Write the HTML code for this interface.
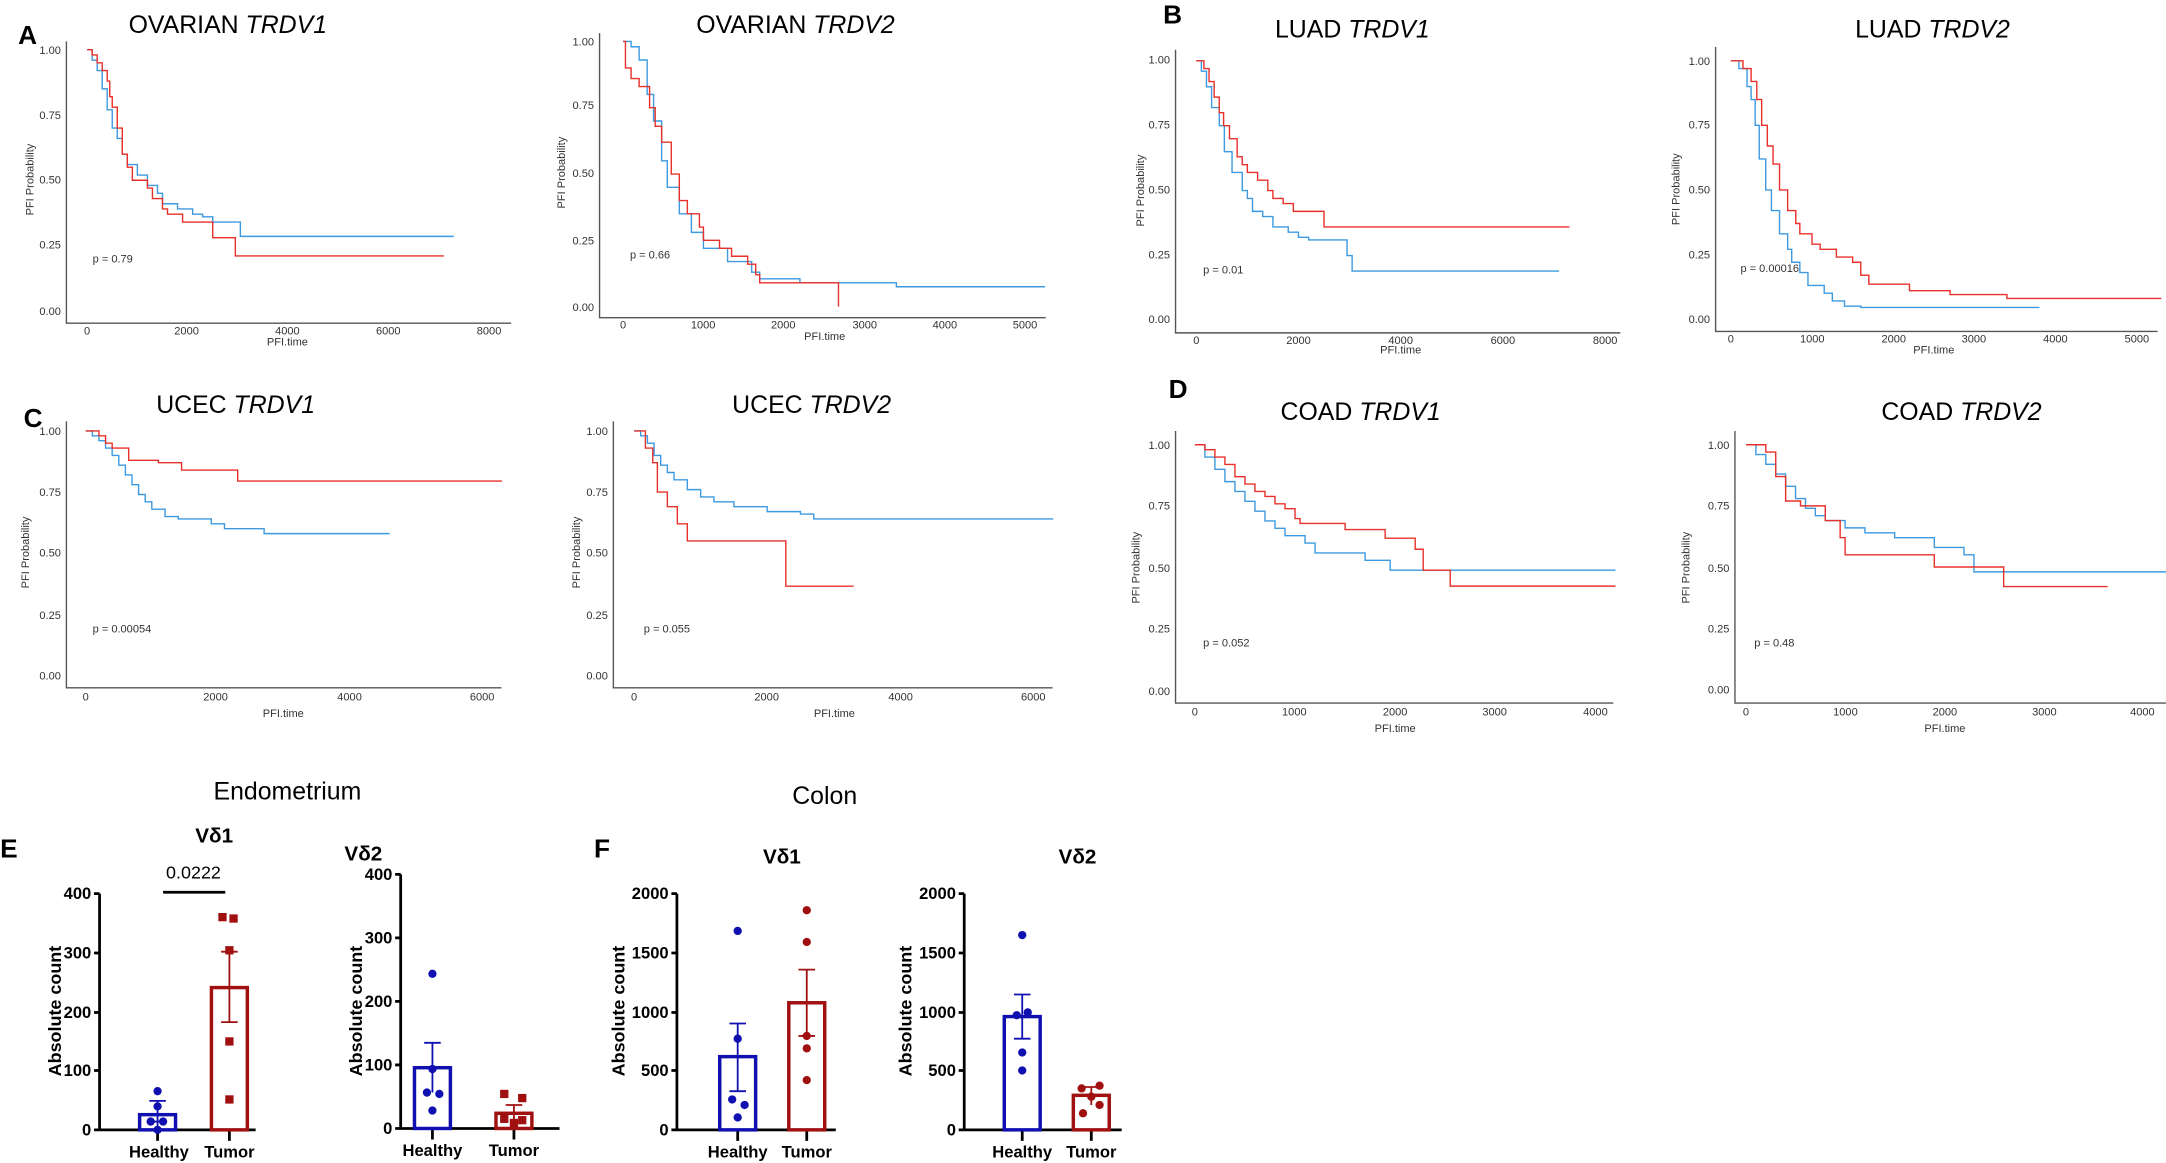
<!DOCTYPE html>
<html><head><meta charset="utf-8">
<style>
html,body{margin:0;padding:0;background:#fff;}
svg{display:block;}
text{font-family:"Liberation Sans",sans-serif;}
.t{font-size:18px;fill:#000;}
.L{font-size:19px;font-weight:bold;fill:#000;}
.tk{font-size:8px;fill:#333;}
.ax{stroke:#555;stroke-width:1;fill:none;}
.r{stroke:#e8302a;stroke-width:1.4;fill:none;vector-effect:non-scaling-stroke;}
.b{stroke:#3d9ae0;stroke-width:1.4;fill:none;vector-effect:non-scaling-stroke;}
.bt{font-size:12px;font-weight:bold;}
.bax{stroke:#000;stroke-width:2;fill:none;}
.yl{font-size:13px;font-weight:bold;}
</style></head><body>
<svg width="2166" height="1163" viewBox="0 0 1568 842" xmlns="http://www.w3.org/2000/svg">
<rect width="1568" height="842" fill="#fff"/>

<!-- ===== A1 ===== -->
<text class="L" x="13" y="32">A</text>
<text class="t" x="93" y="24">OVARIAN <tspan font-style="italic">TRDV1</tspan></text>
<path class="ax" d="M48 30 V234 H370"/>
<g class="tk" text-anchor="end"><text x="44" y="39">1.00</text><text x="44" y="86">0.75</text><text x="44" y="133">0.50</text><text x="44" y="180">0.25</text><text x="44" y="228">0.00</text></g>
<g class="tk" text-anchor="middle"><text x="63" y="242">0</text><text x="135" y="242">2000</text><text x="208" y="242">4000</text><text x="281" y="242">6000</text><text x="354" y="242">8000</text><text x="208" y="250">PFI.time</text></g>
<text class="tk" transform="translate(24,130) rotate(-90)" text-anchor="middle">PFI Probability</text>
<text class="tk" x="67" y="190">p = 0.79</text>
<g transform="translate(63,225) scale(0.036375,-189)">
<path class="b" d="M0 1 H100 V.96 H200 V.92 H300 V.85 H400 V.77 H500 V.7 H600 V.66 H700 V.6 H800 V.56 H1000 V.52 H1200 V.48 H1400 V.45 H1500 V.41 H1800 V.39 H2100 V.37 H2300 V.36 H2500 V.34 H3050 V.285 H7300"/>
<path class="r" d="M0 1 H100 V.98 H200 V.95 H300 V.92 H400 V.88 H450 V.82 H500 V.78 H600 V.7 H700 V.6 H800 V.55 H900 V.5 H1200 V.47 H1300 V.43 H1500 V.39 H1600 V.37 H1900 V.34 H2500 V.28 H2950 V.21 H7100"/>
</g>

<!-- ===== A2 ===== -->
<text class="t" x="504" y="24">OVARIAN <tspan font-style="italic">TRDV2</tspan></text>
<path class="ax" d="M434 24 V230 H757"/>
<g class="tk" text-anchor="end"><text x="430" y="33">1.00</text><text x="430" y="79">0.75</text><text x="430" y="128">0.50</text><text x="430" y="177">0.25</text><text x="430" y="225">0.00</text></g>
<g class="tk" text-anchor="middle"><text x="451" y="238">0</text><text x="509" y="238">1000</text><text x="567" y="238">2000</text><text x="626" y="238">3000</text><text x="684" y="238">4000</text><text x="742" y="238">5000</text><text x="597" y="246">PFI.time</text></g>
<text class="tk" transform="translate(409,125) rotate(-90)" text-anchor="middle">PFI Probability</text>
<text class="tk" x="456" y="187">p = 0.66</text>
<g transform="translate(451,222) scale(0.0582,-192)">
<path class="b" d="M0 1 H100 V.98 H200 V.93 H300 V.8 H380 V.7 H480 V.55 H550 V.45 H700 V.35 H850 V.28 H1000 V.22 H1300 V.17 H1600 V.13 H1700 V.105 H2200 V.09 H3400 V.075 H5250"/>
<path class="r" d="M0 1 H30 V.9 H100 V.86 H200 V.83 H330 V.75 H400 V.68 H480 V.62 H600 V.5 H700 V.4 H800 V.35 H950 V.3 H1000 V.25 H1200 V.22 H1350 V.19 H1550 V.16 H1650 V.12 H1700 V.09 H2680 V0"/>
</g>

<!-- ===== B1 ===== -->
<text class="L" x="842" y="17">B</text>
<text class="t" x="923" y="27">LUAD <tspan font-style="italic">TRDV1</tspan></text>
<path class="ax" d="M851 36 V241 H1173"/>
<g class="tk" text-anchor="end"><text x="847" y="46">1.00</text><text x="847" y="93">0.75</text><text x="847" y="140">0.50</text><text x="847" y="187">0.25</text><text x="847" y="234">0.00</text></g>
<g class="tk" text-anchor="middle"><text x="866" y="249">0</text><text x="940" y="249">2000</text><text x="1014" y="249">4000</text><text x="1088" y="249">6000</text><text x="1162" y="249">8000</text><text x="1014" y="256">PFI.time</text></g>
<text class="tk" transform="translate(828,138) rotate(-90)" text-anchor="middle">PFI Probability</text>
<text class="tk" x="871" y="198">p = 0.01</text>
<g transform="translate(866,232) scale(0.037,-188)">
<path class="b" d="M0 1 H100 V.96 H200 V.9 H300 V.82 H450 V.75 H550 V.65 H700 V.57 H900 V.5 H1000 V.47 H1100 V.42 H1300 V.4 H1500 V.36 H1800 V.34 H2000 V.32 H2200 V.31 H2950 V.25 H3050 V.19 H7100"/>
<path class="r" d="M0 1 H150 V.97 H250 V.92 H350 V.86 H450 V.8 H535 V.75 H650 V.7 H800 V.63 H900 V.6 H1000 V.57 H1200 V.54 H1400 V.5 H1500 V.47 H1700 V.45 H1900 V.42 H2500 V.36 H7300"/>
</g>

<!-- ===== B2 ===== -->
<text class="t" x="1343" y="27">LUAD <tspan font-style="italic">TRDV2</tspan></text>
<path class="ax" d="M1242 34 V240 H1562"/>
<g class="tk" text-anchor="end"><text x="1238" y="47">1.00</text><text x="1238" y="93">0.75</text><text x="1238" y="140">0.50</text><text x="1238" y="187">0.25</text><text x="1238" y="234">0.00</text></g>
<g class="tk" text-anchor="middle"><text x="1253" y="248">0</text><text x="1312" y="248">1000</text><text x="1371" y="248">2000</text><text x="1429" y="248">3000</text><text x="1488" y="248">4000</text><text x="1547" y="248">5000</text><text x="1400" y="256">PFI.time</text></g>
<text class="tk" transform="translate(1216,137) rotate(-90)" text-anchor="middle">PFI Probability</text>
<text class="tk" x="1260" y="197">p = 0.00016</text>
<g transform="translate(1253,231) scale(0.0588,-187)">
<path class="b" d="M0 1 H100 V.97 H200 V.9 H250 V.85 H300 V.75 H350 V.62 H430 V.5 H500 V.42 H600 V.33 H700 V.27 H750 V.22 H850 V.18 H950 V.13 H1150 V.1 H1250 V.07 H1400 V.05 H1600 V.045 H3800"/>
<path class="r" d="M0 1 H150 V.97 H250 V.92 H320 V.85 H380 V.75 H450 V.67 H520 V.6 H600 V.5 H700 V.42 H800 V.37 H850 V.33 H1000 V.29 H1100 V.27 H1300 V.24 H1500 V.22 H1600 V.17 H1700 V.135 H2200 V.11 H2700 V.095 H3400 V.08 H5300"/>
</g>

<!-- ===== C1 ===== -->
<text class="L" x="17" y="309">C</text>
<text class="t" x="113" y="299">UCEC <tspan font-style="italic">TRDV1</tspan></text>
<path class="ax" d="M48 305 V498 H363"/>
<g class="tk" text-anchor="end"><text x="44" y="315">1.00</text><text x="44" y="359">0.75</text><text x="44" y="403">0.50</text><text x="44" y="448">0.25</text><text x="44" y="492">0.00</text></g>
<g class="tk" text-anchor="middle"><text x="62" y="507">0</text><text x="156" y="507">2000</text><text x="253" y="507">4000</text><text x="349" y="507">6000</text><text x="205" y="519">PFI.time</text></g>
<text class="tk" transform="translate(21,400) rotate(-90)" text-anchor="middle">PFI Probability</text>
<text class="tk" x="67" y="458">p = 0.00054</text>
<g transform="translate(62,489) scale(0.04783,-177)">
<path class="b" d="M0 1 H100 V.98 H200 V.96 H300 V.93 H400 V.9 H500 V.86 H600 V.82 H700 V.78 H800 V.74 H900 V.71 H1000 V.68 H1200 V.65 H1400 V.64 H1900 V.62 H2100 V.6 H2700 V.58 H4600"/>
<path class="r" d="M0 1 H200 V.98 H300 V.95 H400 V.93 H650 V.88 H1100 V.87 H1450 V.84 H2300 V.795 H6300"/>
</g>

<!-- ===== C2 ===== -->
<text class="t" x="530" y="299">UCEC <tspan font-style="italic">TRDV2</tspan></text>
<path class="ax" d="M444 305 V498 H762"/>
<g class="tk" text-anchor="end"><text x="440" y="315">1.00</text><text x="440" y="359">0.75</text><text x="440" y="403">0.50</text><text x="440" y="448">0.25</text><text x="440" y="492">0.00</text></g>
<g class="tk" text-anchor="middle"><text x="459" y="507">0</text><text x="555" y="507">2000</text><text x="652" y="507">4000</text><text x="748" y="507">6000</text><text x="604" y="519">PFI.time</text></g>
<text class="tk" transform="translate(420,400) rotate(-90)" text-anchor="middle">PFI Probability</text>
<text class="tk" x="466" y="458">p = 0.055</text>
<g transform="translate(459,489) scale(0.04817,-177)">
<path class="b" d="M0 1 H100 V.98 H200 V.95 H300 V.9 H400 V.86 H500 V.83 H600 V.8 H800 V.76 H1000 V.73 H1200 V.71 H1500 V.69 H2000 V.67 H2500 V.66 H2700 V.64 H6300"/>
<path class="r" d="M0 1 H170 V.93 H280 V.87 H350 V.75 H500 V.69 H650 V.62 H800 V.55 H2280 V.365 H3300"/>
</g>

<!-- ===== D1 ===== -->
<text class="L" x="846" y="288">D</text>
<text class="t" x="927" y="304">COAD <tspan font-style="italic">TRDV1</tspan></text>
<path class="ax" d="M851 312 V509 H1168"/>
<g class="tk" text-anchor="end"><text x="847" y="325">1.00</text><text x="847" y="369">0.75</text><text x="847" y="414">0.50</text><text x="847" y="458">0.25</text><text x="847" y="503">0.00</text></g>
<g class="tk" text-anchor="middle"><text x="865" y="518">0</text><text x="937" y="518">1000</text><text x="1010" y="518">2000</text><text x="1082" y="518">3000</text><text x="1155" y="518">4000</text><text x="1010" y="530">PFI.time</text></g>
<text class="tk" transform="translate(825,411) rotate(-90)" text-anchor="middle">PFI Probability</text>
<text class="tk" x="871" y="468">p = 0.052</text>
<g transform="translate(865,500) scale(0.0725,-178)">
<path class="b" d="M0 1 H100 V.95 H200 V.9 H300 V.85 H400 V.81 H500 V.77 H600 V.73 H700 V.69 H800 V.66 H900 V.63 H1100 V.6 H1200 V.56 H1700 V.53 H1950 V.49 H4200"/>
<path class="r" d="M0 1 H100 V.98 H200 V.95 H300 V.92 H400 V.87 H500 V.84 H600 V.81 H700 V.79 H800 V.76 H900 V.74 H1000 V.7 H1050 V.68 H1500 V.655 H1900 V.62 H2200 V.575 H2280 V.49 H2550 V.425 H4200"/>
</g>

<!-- ===== D2 ===== -->
<text class="t" x="1362" y="304">COAD <tspan font-style="italic">TRDV2</tspan></text>
<path class="ax" d="M1256 312 V509 H1568"/>
<g class="tk" text-anchor="end"><text x="1252" y="325">1.00</text><text x="1252" y="369">0.75</text><text x="1252" y="414">0.50</text><text x="1252" y="458">0.25</text><text x="1252" y="502">0.00</text></g>
<g class="tk" text-anchor="middle"><text x="1264" y="518">0</text><text x="1336" y="518">1000</text><text x="1408" y="518">2000</text><text x="1480" y="518">3000</text><text x="1551" y="518">4000</text><text x="1408" y="530">PFI.time</text></g>
<text class="tk" transform="translate(1223,411) rotate(-90)" text-anchor="middle">PFI Probability</text>
<text class="tk" x="1270" y="468">p = 0.48</text>
<g transform="translate(1264,499) scale(0.07175,-177)">
<path class="b" d="M0 1 H100 V.96 H200 V.92 H300 V.88 H400 V.83 H500 V.78 H600 V.74 H700 V.71 H800 V.69 H1000 V.66 H1200 V.64 H1500 V.62 H1900 V.58 H2200 V.55 H2300 V.48 H4300"/>
<path class="r" d="M0 1 H200 V.97 H300 V.87 H400 V.77 H550 V.75 H800 V.69 H950 V.62 H1000 V.55 H1900 V.5 H2600 V.42 H3650"/>
</g>

<!-- ===== Bottom bar charts ===== -->
<text x="208" y="579" text-anchor="middle" font-size="18">Endometrium</text>
<text x="597" y="582" text-anchor="middle" font-size="18">Colon</text>
<text class="L" x="0" y="621">E</text>
<text class="L" x="430" y="621">F</text>

<g class="bt">
<!-- E1 -->
<text x="155" y="610" text-anchor="middle" font-size="15">Vδ1</text>
<text x="140" y="636" text-anchor="middle" font-size="13" font-weight="normal">0.0222</text>
<path d="M118 646 H163" stroke="#000" stroke-width="2"/>
<path class="bax" d="M72 647 V818 H185 M68 647 H72 M68 690 H72 M68 733 H72 M68 775 H72 M68 818 H72 M114 818 V826 M166 818 V826"/>
<g text-anchor="end"><text x="66" y="651">400</text><text x="66" y="694">300</text><text x="66" y="737">200</text><text x="66" y="779">100</text><text x="66" y="822">0</text></g>
<text class="yl" transform="translate(44,732) rotate(-90)" text-anchor="middle">Absolute count</text>
<rect x="101" y="807" width="26" height="11" fill="none" stroke="#1010b0" stroke-width="2.5"/>
<path d="M114 797 V816 M108 797 H120 M108 812 H120" stroke="#1010b0" stroke-width="1.3"/>
<g fill="#1010b0"><circle cx="114" cy="790" r="3"/><circle cx="114" cy="801" r="3"/><circle cx="109" cy="812" r="3"/><circle cx="118" cy="812" r="3"/><circle cx="114" cy="818" r="3"/></g>
<rect x="153" y="715" width="26" height="103" fill="none" stroke="#a01010" stroke-width="2.5"/>
<path d="M166 689 V740 M160 689 H172 M160 740 H172" stroke="#a01010" stroke-width="1.3"/>
<g fill="#a01010"><rect x="158" y="661" width="6" height="6"/><rect x="166" y="662" width="6" height="6"/><rect x="163" y="685" width="6" height="6"/><rect x="163" y="751" width="6" height="6"/><rect x="163" y="793" width="6" height="6"/></g>
<text x="115" y="838" text-anchor="middle">Healthy</text><text x="166" y="838" text-anchor="middle">Tumor</text>

<!-- E2 -->
<text x="263" y="623" text-anchor="middle" font-size="15">Vδ2</text>
<path class="bax" d="M290 633 V817 H405 M286 633 H290 M286 679 H290 M286 725 H290 M286 771 H290 M286 817 H290 M313 817 V825 M372 817 V825"/>
<g text-anchor="end"><text x="284" y="637">400</text><text x="284" y="683">300</text><text x="284" y="729">200</text><text x="284" y="775">100</text><text x="284" y="821">0</text></g>
<text class="yl" transform="translate(262,732) rotate(-90)" text-anchor="middle">Absolute count</text>
<rect x="300" y="773" width="26" height="44" fill="none" stroke="#1010b0" stroke-width="2.5"/>
<path d="M313 755 V791 M307 755 H319" stroke="#1010b0" stroke-width="1.3"/>
<g fill="#1010b0"><circle cx="313" cy="705" r="3"/><circle cx="313" cy="774" r="3"/><circle cx="309" cy="791" r="3"/><circle cx="318" cy="792" r="3"/><circle cx="313" cy="804" r="3"/></g>
<rect x="359" y="806" width="26" height="11" fill="none" stroke="#a01010" stroke-width="2.5"/>
<path d="M372 800 V812 M366 800 H378" stroke="#a01010" stroke-width="1.3"/>
<g fill="#a01010"><rect x="362" y="789" width="6" height="6"/><rect x="375" y="792" width="6" height="6"/><rect x="362" y="807" width="6" height="6"/><rect x="375" y="808" width="6" height="6"/><rect x="369" y="810" width="6" height="6"/></g>
<text x="313" y="837" text-anchor="middle">Healthy</text><text x="372" y="837" text-anchor="middle">Tumor</text>

<!-- F1 -->
<text x="566" y="625" text-anchor="middle" font-size="15">Vδ1</text>
<path class="bax" d="M490 647 V818 H605 M486 647 H490 M486 690 H490 M486 733 H490 M486 775 H490 M486 818 H490 M534 818 V826 M584 818 V826"/>
<g text-anchor="end"><text x="484" y="651">2000</text><text x="484" y="694">1500</text><text x="484" y="737">1000</text><text x="484" y="779">500</text><text x="484" y="822">0</text></g>
<text class="yl" transform="translate(452,732) rotate(-90)" text-anchor="middle">Absolute count</text>
<rect x="521" y="765" width="26" height="53" fill="none" stroke="#1010b0" stroke-width="2.5"/>
<path d="M534 741 V790 M528 741 H540 M528 790 H540" stroke="#1010b0" stroke-width="1.3"/>
<g fill="#1010b0"><circle cx="534" cy="674" r="3"/><circle cx="534" cy="752" r="3"/><circle cx="530" cy="796" r="3"/><circle cx="539" cy="800" r="3"/><circle cx="534" cy="809" r="3"/></g>
<rect x="571" y="726" width="26" height="92" fill="none" stroke="#a01010" stroke-width="2.5"/>
<path d="M584 702 V750 M578 702 H590 M578 750 H590" stroke="#a01010" stroke-width="1.3"/>
<g fill="#a01010"><circle cx="584" cy="659" r="3"/><circle cx="584" cy="682" r="3"/><circle cx="584" cy="750" r="3"/><circle cx="584" cy="759" r="3"/><circle cx="584" cy="782" r="3"/></g>
<text x="534" y="838" text-anchor="middle">Healthy</text><text x="584" y="838" text-anchor="middle">Tumor</text>

<!-- F2 -->
<text x="780" y="625" text-anchor="middle" font-size="15">Vδ2</text>
<path class="bax" d="M698 647 V818 H812 M694 647 H698 M694 690 H698 M694 733 H698 M694 775 H698 M694 818 H698 M740 818 V826 M790 818 V826"/>
<g text-anchor="end"><text x="692" y="651">2000</text><text x="692" y="694">1500</text><text x="692" y="737">1000</text><text x="692" y="779">500</text><text x="692" y="822">0</text></g>
<text class="yl" transform="translate(660,732) rotate(-90)" text-anchor="middle">Absolute count</text>
<rect x="727" y="736" width="26" height="82" fill="none" stroke="#1010b0" stroke-width="2.5"/>
<path d="M740 720 V752 M734 720 H746 M734 752 H746" stroke="#1010b0" stroke-width="1.3"/>
<g fill="#1010b0"><circle cx="740" cy="677" r="3"/><circle cx="736" cy="735" r="3"/><circle cx="744" cy="733" r="3"/><circle cx="740" cy="762" r="3"/><circle cx="740" cy="775" r="3"/></g>
<rect x="777" y="793" width="26" height="25" fill="none" stroke="#a01010" stroke-width="2.5"/>
<path d="M790 787 V800 M784 787 H796" stroke="#a01010" stroke-width="1.3"/>
<g fill="#a01010"><circle cx="783" cy="788" r="3"/><circle cx="796" cy="786" r="3"/><circle cx="790" cy="794" r="3"/><circle cx="796" cy="800" r="3"/><circle cx="784" cy="806" r="3"/></g>
<text x="740" y="838" text-anchor="middle">Healthy</text><text x="790" y="838" text-anchor="middle">Tumor</text>
</g>
</svg>
</body></html>
